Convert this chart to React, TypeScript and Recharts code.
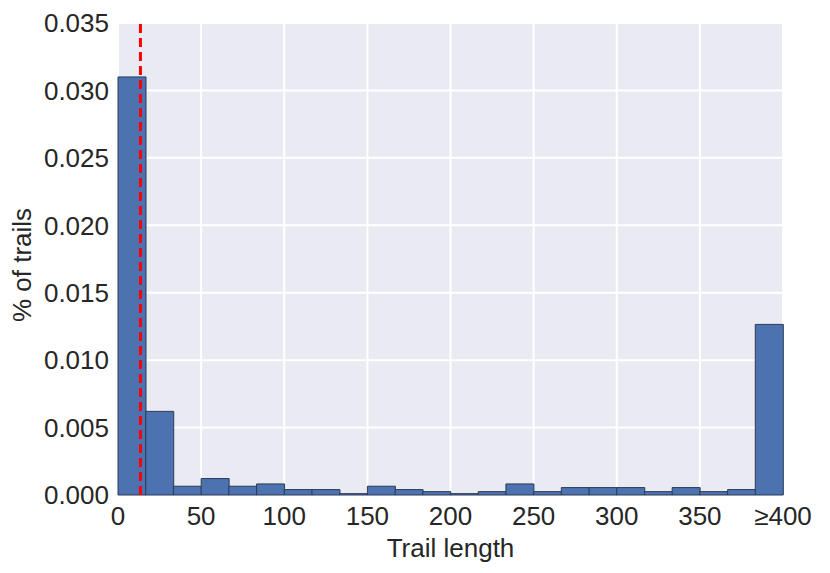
import React from "react";
import {
  ComposedChart,
  Bar,
  XAxis,
  YAxis,
  CartesianGrid,
  ReferenceLine,
} from "recharts";

// histogram bins 400/24 wide, keyed by bin centre
const binMids = [
  8.33, 25, 41.67, 58.33, 75, 91.67, 108.33, 125, 141.67, 158.33, 175, 191.67,
  208.33, 225, 241.67, 258.33, 275, 291.67, 308.33, 325, 341.67, 358.33, 375, 391.67,
];
const shares = [
  0.031, 0.0062, 0.00065, 0.00122, 0.00065, 0.00082, 0.0004, 0.0004, 0.0001,
  0.00065, 0.0004, 0.00025, 0.0001, 0.00025, 0.00082, 0.00025, 0.00055, 0.00055,
  0.00055, 0.00025, 0.00055, 0.00025, 0.0004, 0.01265,
];
const xTicks = [0, 50, 100, 150, 200, 250, 300, 350, 400];
const yTicks = [0, 0.005, 0.01, 0.015, 0.02, 0.025, 0.03, 0.035];
const cutoff = 13.5;

const data = binMids.map((mid, i) => ({ mid, share: shares[i] }));

const font = "'Liberation Sans', Arial, sans-serif";
const tickStyle = { fontSize: 26, fill: "#262626", fontFamily: font };

export default function App() {
  return (
    <div style={{ position: "absolute", left: 0, top: 0, background: "#fff" }}>
      <ComposedChart
        width={830}
        height={573}
        data={data}
        barCategoryGap={0}
        barGap={0}
        margin={{ top: 23, right: 47, bottom: 0, left: 0 }}
      >
        <CartesianGrid fill="#eaeaf2" stroke="#ffffff" strokeWidth={2} />
        <XAxis
          dataKey="mid"
          type="number"
          domain={[0, 400]}
          ticks={xTicks}
          interval={0}
          tickFormatter={(v) => (v === 400 ? "≥400" : String(v))}
          tick={tickStyle}
          axisLine={false}
          tickLine={false}
          tickMargin={6}
          height={78}
          label={{
            value: "Trail length",
            position: "insideBottom",
            offset: 16,
            style: { fontSize: 26, fill: "#262626", fontFamily: font },
          }}
        />
        <YAxis
          domain={[0, 0.035]}
          ticks={yTicks}
          interval={0}
          tickFormatter={(v) => v.toFixed(3)}
          tick={tickStyle}
          axisLine={false}
          tickLine={false}
          tickMargin={3}
          width={118}
          label={(props: any) => {
            const vb = props.viewBox || { y: 23, height: 472 };
            const cy = vb.y + vb.height / 2 + 6;
            return (
              <text
                x={31}
                y={cy}
                transform={`rotate(-90, 31, ${cy})`}
                textAnchor="middle"
                fontSize={26}
                fill="#262626"
                fontFamily={font}
              >
                % of trails
              </text>
            );
          }}
        />
        <Bar
          dataKey="share"
          fill="#4c72b0"
          stroke="#2a3b57"
          strokeWidth={1}
          isAnimationActive={false}
        />
        <ReferenceLine
          x={cutoff}
          stroke="#ff0000"
          strokeWidth={3}
          strokeDasharray="9 5"
        />
      </ComposedChart>
    </div>
  );
}
